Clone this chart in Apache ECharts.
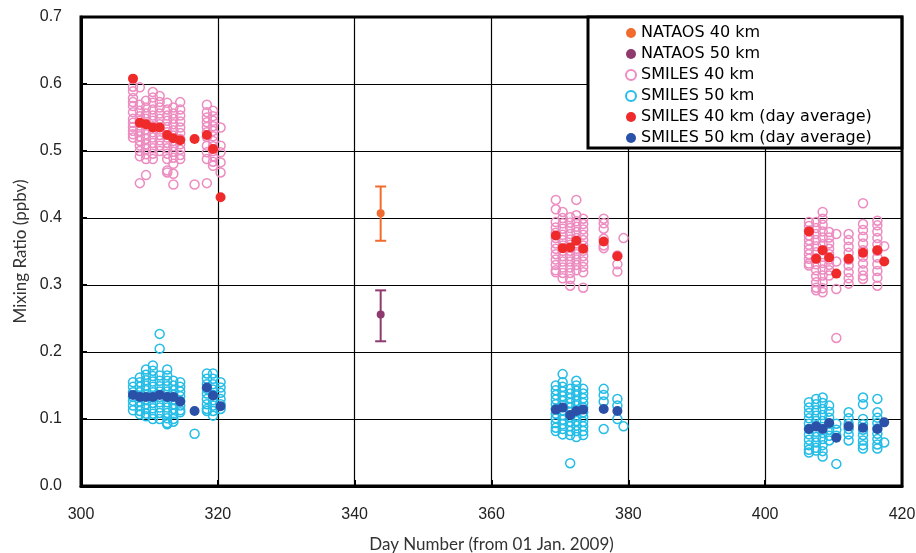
<!DOCTYPE html>
<html>
<head>
<meta charset="utf-8">
<script src="https://cdn.jsdelivr.net/npm/echarts@6/dist/echarts.min.js"></script>
<style>
  html, body { margin: 0; padding: 0; background: #fff; }
  #chart { width: 916px; height: 553px; }
</style>
</head>
<body>
<div id="chart"></div>
<script>
// SMILES 40 km, individual measurements (one column per day)
const s40Days = [307.6, 308.6, 309.5, 310.5, 311.5, 312.6, 313.5, 314.5, 316.6, 318.4, 319.3, 320.4,
  369.4, 370.4, 371.5, 372.4, 373.4, 376.4, 378.4, 379.3,
  406.4, 407.45, 408.4, 409.35, 410.4, 412.2, 414.3, 416.4, 417.4];
const s40Vals = [
  [0.596, 0.589, 0.579, 0.573, 0.567, 0.558, 0.548, 0.542, 0.536, 0.530, 0.525, 0.520],
  [0.595, 0.569, 0.560, 0.552, 0.545, 0.538, 0.530, 0.522, 0.515, 0.508, 0.500, 0.492, 0.452],
  [0.575, 0.565, 0.556, 0.548, 0.540, 0.532, 0.525, 0.518, 0.510, 0.503, 0.495, 0.488, 0.464],
  [0.588, 0.580, 0.572, 0.562, 0.553, 0.545, 0.537, 0.528, 0.520, 0.512, 0.504, 0.496, 0.488],
  [0.582, 0.573, 0.565, 0.556, 0.548, 0.540, 0.532, 0.524, 0.516, 0.508, 0.500],
  [0.572, 0.562, 0.553, 0.545, 0.536, 0.528, 0.520, 0.512, 0.504, 0.496, 0.488, 0.471, 0.468],
  [0.565, 0.556, 0.548, 0.540, 0.531, 0.523, 0.515, 0.507, 0.499, 0.490, 0.481, 0.466, 0.450],
  [0.573, 0.562, 0.553, 0.544, 0.535, 0.527, 0.518, 0.510, 0.502, 0.494, 0.488],
  [0.450],
  [0.569, 0.558, 0.550, 0.543, 0.536, 0.528, 0.521, 0.508, 0.498, 0.488, 0.452],
  [0.560, 0.552, 0.545, 0.537, 0.530, 0.522, 0.515, 0.507, 0.500, 0.492, 0.484, 0.478],
  [0.535, 0.508, 0.498, 0.483, 0.468],
  [0.427, 0.413, 0.394, 0.386, 0.378, 0.370, 0.362, 0.354, 0.346, 0.338, 0.330, 0.322, 0.319],
  [0.409, 0.400, 0.392, 0.384, 0.375, 0.367, 0.359, 0.351, 0.343, 0.335, 0.326, 0.318, 0.310],
  [0.401, 0.393, 0.385, 0.376, 0.368, 0.360, 0.351, 0.343, 0.335, 0.326, 0.318, 0.309, 0.299],
  [0.427, 0.404, 0.395, 0.387, 0.379, 0.370, 0.362, 0.354, 0.346, 0.338, 0.330, 0.322],
  [0.399, 0.391, 0.383, 0.375, 0.367, 0.359, 0.351, 0.343, 0.335, 0.327, 0.319, 0.296],
  [0.399, 0.392, 0.384, 0.369, 0.359, 0.355],
  [0.344, 0.331, 0.320],
  [0.370],
  [0.394, 0.388, 0.381, 0.374, 0.367, 0.360, 0.353, 0.346, 0.339, 0.332, 0.329],
  [0.394, 0.385, 0.376, 0.367, 0.358, 0.349, 0.340, 0.331, 0.322, 0.313, 0.304, 0.296, 0.292],
  [0.409, 0.399, 0.390, 0.380, 0.371, 0.361, 0.352, 0.342, 0.333, 0.323, 0.314, 0.304, 0.295, 0.289],
  [0.379, 0.371, 0.362, 0.354, 0.346, 0.338, 0.330, 0.322, 0.314],
  [0.376, 0.335, 0.294, 0.221],
  [0.376, 0.367, 0.357, 0.348, 0.338, 0.329, 0.319, 0.310, 0.302],
  [0.422, 0.391, 0.382, 0.372, 0.362, 0.352, 0.342, 0.332, 0.322, 0.314, 0.309],
  [0.396, 0.389, 0.380, 0.370, 0.361, 0.351, 0.341, 0.331, 0.321, 0.311, 0.299],
  [0.358]
];

// SMILES 50 km, individual measurements
const s50Days = s40Days;
const s50Vals = [
  [0.155, 0.148, 0.140, 0.133, 0.127, 0.120, 0.113],
  [0.162, 0.155, 0.148, 0.140, 0.133, 0.126, 0.119, 0.112, 0.107],
  [0.174, 0.166, 0.158, 0.150, 0.143, 0.136, 0.129, 0.122, 0.115, 0.108, 0.104],
  [0.180, 0.172, 0.164, 0.156, 0.148, 0.140, 0.132, 0.124, 0.116, 0.108, 0.100],
  [0.227, 0.205, 0.165, 0.157, 0.149, 0.141, 0.133, 0.125, 0.117, 0.109, 0.100],
  [0.174, 0.165, 0.157, 0.149, 0.141, 0.133, 0.125, 0.117, 0.109, 0.101, 0.094, 0.092],
  [0.157, 0.150, 0.143, 0.136, 0.129, 0.122, 0.115, 0.108, 0.100, 0.096],
  [0.155, 0.148, 0.141, 0.134, 0.127, 0.120, 0.113, 0.110],
  [0.078],
  [0.168, 0.160, 0.152, 0.145, 0.138, 0.130, 0.122, 0.115, 0.112],
  [0.168, 0.160, 0.152, 0.144, 0.136, 0.128, 0.120, 0.112, 0.105],
  [0.155, 0.147, 0.139, 0.130, 0.122, 0.115],
  [0.150, 0.143, 0.136, 0.129, 0.122, 0.115, 0.108, 0.101, 0.094, 0.087, 0.082],
  [0.167, 0.155, 0.148, 0.141, 0.134, 0.127, 0.120, 0.113, 0.106, 0.099, 0.092, 0.085, 0.077],
  [0.145, 0.138, 0.131, 0.124, 0.117, 0.110, 0.103, 0.096, 0.089, 0.082, 0.076, 0.034],
  [0.157, 0.150, 0.142, 0.135, 0.127, 0.120, 0.112, 0.105, 0.097, 0.090, 0.082, 0.073],
  [0.145, 0.138, 0.131, 0.124, 0.117, 0.110, 0.103, 0.096, 0.089, 0.082, 0.076],
  [0.145, 0.136, 0.126, 0.085],
  [0.130, 0.120, 0.100],
  [0.089],
  [0.125, 0.117, 0.109, 0.101, 0.093, 0.085, 0.077, 0.069, 0.061, 0.054, 0.050],
  [0.130, 0.122, 0.113, 0.105, 0.097, 0.089, 0.081, 0.073, 0.065, 0.057, 0.053],
  [0.132, 0.124, 0.115, 0.106, 0.097, 0.088, 0.079, 0.070, 0.061, 0.052, 0.044],
  [0.120, 0.111, 0.102, 0.093, 0.084, 0.075, 0.068],
  [0.093, 0.084, 0.075, 0.033],
  [0.110, 0.101, 0.093, 0.085, 0.077, 0.068],
  [0.132, 0.122, 0.100, 0.092, 0.084, 0.076, 0.068, 0.061, 0.056],
  [0.130, 0.110, 0.102, 0.094, 0.086, 0.078, 0.070, 0.062, 0.056],
  [0.065]
];

// day averages
const avgDays = [307.6, 308.6, 309.5, 310.5, 311.5, 312.6, 313.5, 314.5, 316.6, 318.4, 319.3, 320.4,
  369.4, 370.4, 371.5, 372.4, 373.4, 376.4, 378.4,
  406.4, 407.45, 408.4, 409.35, 410.4, 412.2, 414.3, 416.4, 417.4];
const avg40 = [0.608, 0.542, 0.540, 0.535, 0.535, 0.524, 0.519, 0.516, 0.518, 0.524, 0.503, 0.431,
  0.374, 0.355, 0.356, 0.366, 0.354, 0.365, 0.343,
  0.380, 0.339, 0.352, 0.341, 0.317, 0.339, 0.348, 0.352, 0.335];
const avg50 = [0.136, 0.133, 0.133, 0.133, 0.136, 0.133, 0.133, 0.126, 0.112, 0.147, 0.135, 0.119,
  0.114, 0.117, 0.106, 0.112, 0.114, 0.115, 0.112,
  0.085, 0.089, 0.085, 0.094, 0.072, 0.089, 0.087, 0.085, 0.095];

// NATAOS (value, low, high)
const natDay = 343.8;
const nat40 = [0.407, 0.366, 0.447];
const nat50 = [0.256, 0.216, 0.292];

const C_NAT40 = '#f26b2e', C_NAT50 = '#8e3a6e';
const C_S40 = '#ec8cc0', C_S50 = '#25bde6';
const C_A40 = '#ee2a2a', C_A50 = '#2a50a8';

function columns(days, vals) {
  const out = [];
  days.forEach((d, i) => vals[i].forEach(v => out.push([d, v])));
  return out;
}

function errorBar(color) {
  return function (params, api) {
    const x = api.value(0);
    const lo = api.coord([x, api.value(1)]);
    const hi = api.coord([x, api.value(2)]);
    const st = { stroke: color, lineWidth: 2 };
    return {
      type: 'group',
      children: [
        { type: 'line', shape: { x1: lo[0], y1: lo[1], x2: hi[0], y2: hi[1] }, style: st },
        { type: 'line', shape: { x1: hi[0] - 5.5, y1: hi[1], x2: hi[0] + 5.5, y2: hi[1] }, style: st },
        { type: 'line', shape: { x1: lo[0] - 5.5, y1: lo[1], x2: lo[0] + 5.5, y2: lo[1] }, style: st }
      ]
    };
  };
}

const chart = echarts.init(document.getElementById('chart'));

chart.setOption({
  animation: false,
  backgroundColor: '#fff',
  grid: {
    left: 81, right: 14, top: 17, bottom: 67, outerBoundsMode: 'none',
    show: true, borderColor: '#000', borderWidth: 3
  },
  legend: {
    left: 588, top: 17,
    orient: 'vertical',
    backgroundColor: '#fff',
    borderColor: '#000', borderWidth: 3, borderRadius: 0,
    padding: [8, 30, 2, 37],
    itemGap: 5, itemWidth: 10, itemHeight: 10,
    icon: 'circle',
    textStyle: { fontFamily: 'DejaVu Sans', fontSize: 16, color: '#000', lineHeight: 16 },
    data: ['NATAOS 40 km', 'NATAOS 50 km', 'SMILES 40 km', 'SMILES 50 km',
      'SMILES 40 km (day average)', 'SMILES 50 km (day average)']
  },
  xAxis: {
    type: 'value', min: 300, max: 420, interval: 20,
    name: 'Day Number (from 01 Jan. 2009)', nameLocation: 'middle', nameGap: 50,
    nameTextStyle: { fontFamily: 'Lato', fontSize: 17, color: '#333' },
    axisLine: { lineStyle: { color: '#000', width: 3 } },
    axisTick: { inside: true, length: 6, lineStyle: { color: '#000', width: 2 } },
    axisLabel: { margin: 21, fontSize: 16, color: '#222', fontFamily: 'Liberation Sans' },
    splitLine: { lineStyle: { color: '#000', width: 1.2 } }
  },
  yAxis: {
    type: 'value', min: 0, max: 0.7, interval: 0.1,
    name: 'Mixing Ratio (ppbv)', nameLocation: 'middle', nameGap: 50,
    nameTextStyle: { fontFamily: 'Lato', fontSize: 17, color: '#333' },
    axisLine: { lineStyle: { color: '#000', width: 3 } },
    axisTick: { inside: true, length: 6, lineStyle: { color: '#000', width: 2 } },
    axisLabel: { margin: 19, fontSize: 16, color: '#222', fontFamily: 'Liberation Sans', formatter: v => v.toFixed(1) },
    splitLine: { lineStyle: { color: '#000', width: 1.2 } }
  },
  series: [
    {
      name: 'SMILES 40 km', type: 'scatter', symbol: 'circle', symbolSize: 9,
      itemStyle: { color: 'rgba(255,255,255,0)', borderColor: C_S40, borderWidth: 1.5, opacity: 1 },
      data: columns(s40Days, s40Vals)
    },
    {
      name: 'SMILES 50 km', type: 'scatter', symbol: 'circle', symbolSize: 9,
      itemStyle: { color: 'rgba(255,255,255,0)', borderColor: C_S50, borderWidth: 1.5, opacity: 1 },
      data: columns(s50Days, s50Vals)
    },
    {
      name: 'NATAOS 40 km bar', type: 'custom', renderItem: errorBar(C_NAT40),
      encode: { x: 0, y: [1, 2] }, data: [[natDay, nat40[1], nat40[2]]]
    },
    {
      name: 'NATAOS 50 km bar', type: 'custom', renderItem: errorBar(C_NAT50),
      encode: { x: 0, y: [1, 2] }, data: [[natDay, nat50[1], nat50[2]]]
    },
    {
      name: 'NATAOS 40 km', type: 'scatter', symbol: 'circle', symbolSize: 8,
      itemStyle: { color: C_NAT40, opacity: 1 }, data: [[natDay, nat40[0]]]
    },
    {
      name: 'NATAOS 50 km', type: 'scatter', symbol: 'circle', symbolSize: 8,
      itemStyle: { color: C_NAT50, opacity: 1 }, data: [[natDay, nat50[0]]]
    },
    {
      name: 'SMILES 40 km (day average)', type: 'scatter', symbol: 'circle', symbolSize: 10,
      itemStyle: { color: C_A40, opacity: 1 }, data: avgDays.map((d, i) => [d, avg40[i]])
    },
    {
      name: 'SMILES 50 km (day average)', type: 'scatter', symbol: 'circle', symbolSize: 10,
      itemStyle: { color: C_A50, opacity: 1 }, data: avgDays.map((d, i) => [d, avg50[i]])
    }
  ]
});
</script>
</body>
</html>
